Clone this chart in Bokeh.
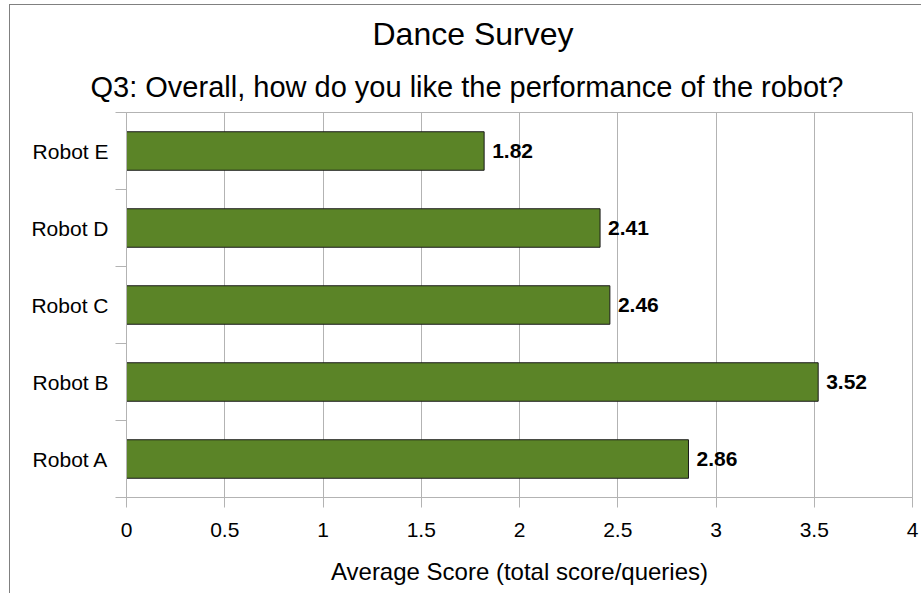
from bokeh.plotting import figure
from bokeh.models import Range1d, FixedTicker, NumeralTickFormatter, Title, ColumnDataSource
from bokeh.core.properties import value
from bokeh.embed import file_html
from bokeh.resources import INLINE

robots = ["Robot A", "Robot B", "Robot C", "Robot D", "Robot E"]
scores = [2.86, 3.52, 2.46, 2.41, 1.82]
score_labels = ["2.86", "3.52", "2.46", "2.41", "1.82"]
x_ticks = [0, 0.5, 1, 1.5, 2, 2.5, 3, 3.5, 4]

title_text = "Dance Survey"
subtitle_text = "Q3: Overall, how do you like the performance of the robot?"
x_label = "Average Score (total score/queries)"

FONT = "Liberation Sans"
GRID = "#b3b3b3"

pos = [i + 0.5 for i in range(len(robots))]
src = ColumnDataSource(dict(y=pos, score=scores, lab=score_labels))

p = figure(width=912, height=589, output_backend="svg", toolbar_location=None,
           x_range=Range1d(0, 4), y_range=Range1d(0, len(robots)),
           min_border_left=116, min_border_right=10, min_border_top=107,
           min_border_bottom=97, title=None)
p.background_fill_color = "white"
p.border_fill_color = "white"
p.outline_line_color = GRID
p.styles = {"margin-left": "9px", "margin-top": "4px",
            "border-left": "1px solid #808080", "border-top": "1px solid #808080"}

p.hbar(y="y", right="score", left=0, height=0.5, source=src,
       fill_color="#5b8427", line_color="#1a1a1a", line_width=1)
p.text(x="score", y="y", text="lab", source=src, x_offset=8,
       text_baseline="middle", text_align="left",
       text_font=value(FONT), text_font_size="21px", text_font_style="bold",
       text_color="black")

# x axis
xa = p.xaxis[0]
xa.ticker = FixedTicker(ticks=x_ticks)
xa.formatter = NumeralTickFormatter(format="0.[0]")
xa.axis_line_color = GRID
xa.major_tick_line_color = GRID
xa.major_tick_out = 10
xa.major_tick_in = 0
xa.minor_tick_line_color = None
xa.major_label_standoff = 15
xa.major_label_text_font = FONT
xa.major_label_text_font_size = "21px"
xa.major_label_text_color = "black"
xa.axis_label = x_label
xa.axis_label_text_font = FONT
xa.axis_label_text_font_size = "24px"
xa.axis_label_text_font_style = "normal"
xa.axis_label_text_color = "black"
xa.axis_label_standoff = 18

# y axis
ya = p.yaxis[0]
ya.ticker = FixedTicker(ticks=pos, minor_ticks=list(range(len(robots) + 1)))
ya.major_label_overrides = {pv: r for pv, r in zip(pos, robots)}
ya.axis_line_color = GRID
ya.major_tick_line_color = None
ya.major_tick_out = 0
ya.major_tick_in = 0
ya.minor_tick_line_color = GRID
ya.minor_tick_out = 11
ya.minor_tick_in = 0
ya.major_label_standoff = 7
ya.major_label_text_font = FONT
ya.major_label_text_font_size = "21px"
ya.major_label_text_color = "black"

p.xgrid.grid_line_color = GRID
p.xgrid.ticker = FixedTicker(ticks=x_ticks)
p.ygrid.grid_line_color = None

sub = Title(text=subtitle_text, align="left", text_font=FONT, text_font_size="29px",
            text_font_style="normal", text_color="black", offset=-36, standoff=19)
main = Title(text=title_text, align="left", text_font=FONT, text_font_size="32px",
             text_font_style="normal", text_color="black", offset=246, standoff=16)
p.add_layout(sub, "above")
p.add_layout(main, "above")

open("out.html", "w").write(file_html(p, INLINE))
